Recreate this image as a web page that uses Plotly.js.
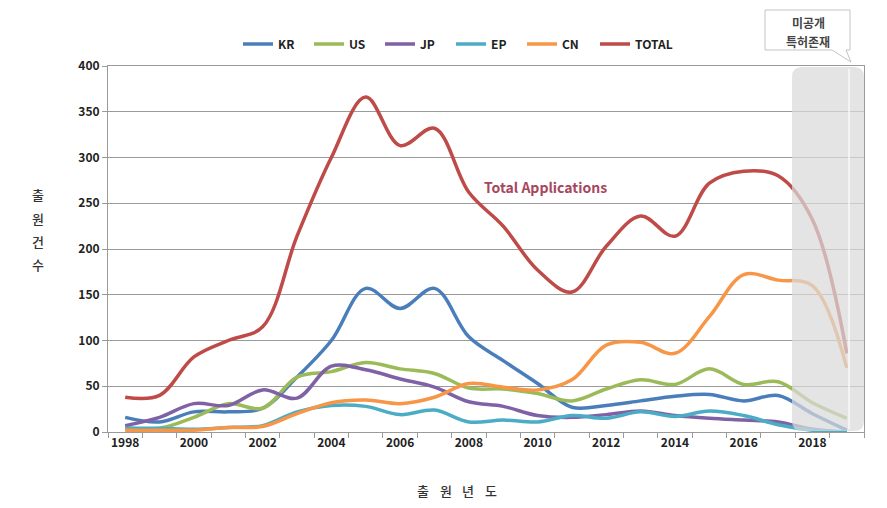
<!DOCTYPE html>
<html>
<head>
<meta charset="utf-8">
<script src="https://cdn.plot.ly/plotly-3.0.1.min.js"></script>
<style>html,body{margin:0;padding:0;background:#fff;}#chart{width:887px;height:508px;}</style>
</head>
<body>
<div id="chart"></div>
<script>
const years = ['1998','1999','2000','2001','2002','2003','2004','2005','2006','2007','2008','2009','2010','2011','2012','2013','2014','2015','2016','2017','2018','2019'];
const tickLabels = ['1998','','2000','','2002','','2004','','2006','','2008','','2010','','2012','','2014','','2016','','2018',''];
const seriesNames = ['KR','US','JP','EP','CN','TOTAL'];
const KR    = [16,11,22,22,26,60,100,157,135,157,104,78,53,27,29,34,39,41,34,40,20,2];
const US    = [5,4,16,31,26,60,66,76,69,64,48,47,42,34,47,57,52,69,52,55,32,15];
const JP    = [7,16,31,29,46,37,72,68,58,49,33,28,18,16,19,23,18,15,13,11,3,0];
const EP    = [4,4,3,5,7,22,29,28,19,24,11,13,11,18,15,22,17,23,18,8,2,0];
const CN    = [2,2,2,5,6,20,32,35,31,38,53,49,46,57,95,98,86,126,172,166,160,70];
const TOTAL = [38,40,82,100,115,214,300,366,313,332,262,225,177,153,203,236,214,272,285,280,232,86];
const yTicks = [0,50,100,150,200,250,300,350,400];
const yTitleChars = ['출','원','건','수'];
const xTitle = '출 원 년 도';
const noteLines = ['미공개','특허존재'];
const totalLabel = 'Total Applications';

const colors = ['#4a7ebb','#9bbb59','#7f62a6','#4bacc6','#f79646','#be4b48'];
const values = [KR,US,JP,EP,CN,TOTAL];
const FONT = '"Noto Sans CJK KR", "Noto Sans", sans-serif';

const traces = seriesNames.map((n,i)=>({
  type:'scatter', mode:'lines', name:n, x:years, y:values[i],
  legend: n==='TOTAL' ? 'legend2' : 'legend',
  line:{color:colors[i], width:3.5, shape:'spline', smoothing:1},
  hoverinfo:'skip'
}));

const L=108, R=864, T=66, B=432;
const px = v => (v-L)/(R-L);
const py = v => (B-v)/(B-T);

const bx0=px(792), bx1=px(864), by0=py(431), by1=py(67);
const rx=10/(R-L), ry=10/(B-T);
const boxPath = `M ${bx0+rx},${by1} L ${bx1-rx},${by1} Q ${bx1},${by1} ${bx1},${by1-ry} L ${bx1},${by0+ry} Q ${bx1},${by0} ${bx1-rx},${by0} L ${bx0+rx},${by0} Q ${bx0},${by0} ${bx0},${by0+ry} L ${bx0},${by1-ry} Q ${bx0},${by1} ${bx0+rx},${by1} Z`;

const cx0=px(765), cx1=px(850), cy0=py(50), cy1=py(10);
const calloutPath = `M ${cx0},${cy1} L ${cx1},${cy1} L ${cx1},${cy0} L ${px(846)},${cy0} L ${px(851)},${py(62)} L ${px(832)},${cy0} L ${cx0},${cy0} Z`;

const annotations = [];
yTitleChars.forEach((c,i)=>{
  annotations.push({xref:'paper',yref:'paper',x:px(38),y:py(195+i*23.3),text:c,showarrow:false,
    font:{family:FONT,size:13,color:'#333',weight:500},xanchor:'center',yanchor:'middle'});
});
xTitle.split(' ').forEach((c,i)=>{
  annotations.push({xref:'paper',yref:'paper',x:px(423+i*22.5),y:py(490),text:c,showarrow:false,
    font:{family:FONT,size:13,color:'#333',weight:500},xanchor:'center',yanchor:'middle'});
});
annotations.push({xref:'paper',yref:'paper',x:px(545),y:py(187),text:totalLabel,showarrow:false,
  font:{family:FONT,size:14,color:'#a6475e',weight:700},xanchor:'center',yanchor:'middle'});
noteLines.forEach((t,i)=>{
  annotations.push({xref:'paper',yref:'paper',x:px(808),y:py(22+i*19),text:t,showarrow:false,
    font:{family:FONT,size:12,color:'#444',weight:700},xanchor:'center',yanchor:'middle'});
});

const legendFont = {family:FONT,size:12,color:'#222',weight:700};
const layout = {
  width:887, height:508,
  margin:{l:L, r:887-R, t:T, b:508-B, pad:0},
  paper_bgcolor:'#fff', plot_bgcolor:'#fff',
  font:{family:FONT, size:12, color:'#222'},
  showlegend:true,
  legend:{orientation:'h', x:px(238), xanchor:'left', y:py(44), yanchor:'middle',
    font:legendFont, entrywidth:26, entrywidthmode:'pixels',
    itemwidth:30, traceorder:'normal', bgcolor:'rgba(0,0,0,0)'},
  legend2:{orientation:'h', x:px(595), xanchor:'left', y:py(44), yanchor:'middle',
    font:legendFont, itemwidth:30, bgcolor:'rgba(0,0,0,0)'},
  xaxis:{type:'category', tickmode:'array', tickvals:years, ticktext:tickLabels, tickson:'boundaries',
    tickangle:0,
    ticks:'outside', ticklen:5, tickcolor:'#9a9a9a', showgrid:false, showline:true, linecolor:'#9a9a9a',
    mirror:true, linewidth:1, tickfont:{family:FONT,size:12,color:'#222',weight:700}, zeroline:false,
    range:[-0.5,21.5], fixedrange:true},
  yaxis:{range:[0,400], tickvals:yTicks, ticks:'outside', ticklen:5, tickcolor:'#9a9a9a',
    showgrid:true, gridcolor:'#9a9a9a', gridwidth:1, showline:true, linecolor:'#9a9a9a', mirror:true,
    zeroline:false, tickfont:{family:FONT,size:12,color:'#222',weight:700}, fixedrange:true},
  shapes:[
    {type:'path', xref:'paper', yref:'paper', path:boxPath, fillcolor:'#dadada', opacity:0.72,
      line:{width:0}, layer:'above'},
    {type:'line', xref:'paper', yref:'paper', x0:px(849), x1:px(849), y0:by0+0.005, y1:by1-0.005,
      line:{color:'rgba(255,255,255,0.8)', width:1.5}, layer:'above'},
    {type:'path', xref:'paper', yref:'paper', path:calloutPath, fillcolor:'#fff',
      line:{color:'#c4c4c4', width:1}, layer:'above'}
  ],
  annotations:annotations
};

Plotly.newPlot('chart', traces, layout, {staticPlot:true, displayModeBar:false});
</script>
</body>
</html>
